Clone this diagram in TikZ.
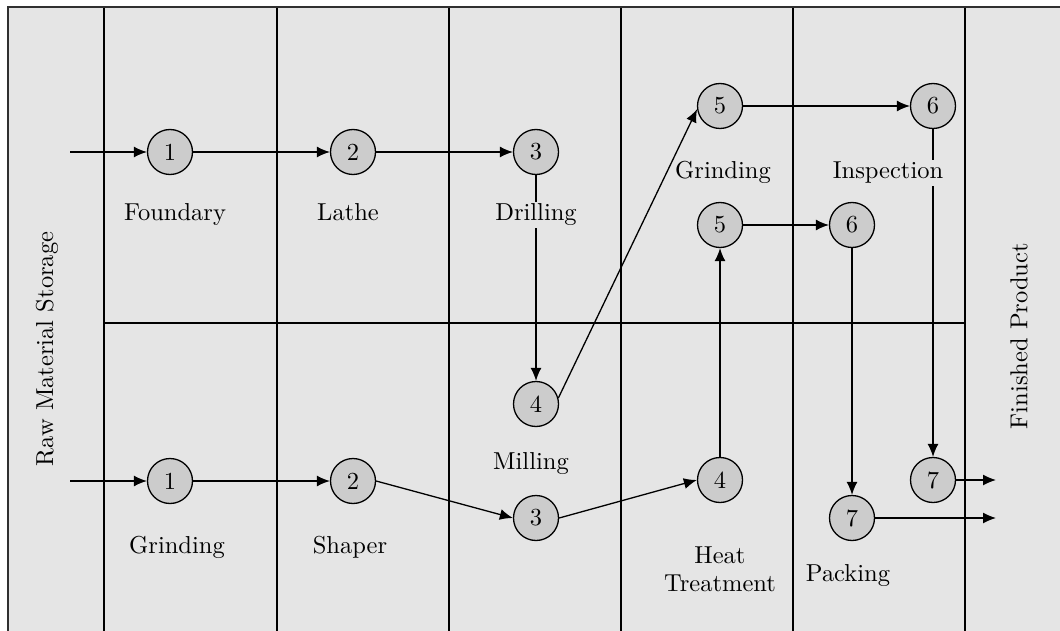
\documentclass[tikz,border=0pt]{standalone}
\usepackage{graphicx}
\usetikzlibrary{arrows.meta}
\definecolor{bg}{HTML}{E5E5E5}
\definecolor{nodefill}{HTML}{CCCCCC}
\definecolor{framecol}{HTML}{303030}
\newcommand\tx[1]{\scalebox{2.45}{#1}}
\begin{document}
\begin{tikzpicture}[x=1pt,y=-1pt,
  font=\fontsize{10}{12}\selectfont,
  gridline/.style={line width=1.3pt,black},
  proc/.style={circle,draw,line width=1.3pt,fill=nodefill,minimum size=45pt,inner sep=0pt},
  flow/.style={line width=1.3pt,-{Latex[length=13pt,width=11pt]}},
  lab/.style={inner sep=0pt,anchor=base},
  cutlab/.style={inner sep=2pt,anchor=base,fill=bg},
  side/.style={rotate=90,inner sep=0pt}]
\useasboundingbox (0,0) rectangle (1060,631);
\clip (0,0) rectangle (1060,631);
\fill[bg] (8,7) rectangle (1070,650);
\foreach \x in {104,277,449,621,793,965} \draw[gridline] (\x,7) -- (\x,650);
\draw[gridline] (104,323) -- (965,323);
\draw[framecol,line width=2.4pt] (8,650) -- (8,7) -- (1070,7);
% side labels
\node[side] (raw) at (47,349) {\tx{Raw Material Storage}};
\node[side] (fin) at (1019,336) {\tx{Finished Product}};
% process nodes
\node[proc] (a1) at (170,152) {\tx{1}};
\node[proc] (a2) at (353,152) {\tx{2}};
\node[proc] (a3) at (536,152) {\tx{3}};
\node[proc] (a4) at (536,404) {\tx{4}};
\node[proc] (a5) at (720,106) {\tx{5}};
\node[proc] (a6) at (933,106) {\tx{6}};
\node[proc] (a7) at (933,480) {\tx{7}};
\node[proc] (b1) at (170,481) {\tx{1}};
\node[proc] (b2) at (353,481) {\tx{2}};
\node[proc] (b3) at (536,518) {\tx{3}};
\node[proc] (b4) at (720,480) {\tx{4}};
\node[proc] (b5) at (720,225) {\tx{5}};
\node[proc] (b6) at (852,225) {\tx{6}};
\node[proc] (b7) at (852,518) {\tx{7}};
\coordinate (ina) at (70,152);
\coordinate (inb) at (70,481);
\coordinate (outa) at (996,480);
\coordinate (outb) at (996,518);
% flows
\draw[flow] (ina) -- (a1);
\draw[flow] (a1) -- (a2);
\draw[flow] (a2) -- (a3);
\draw[flow] (a3) -- (a4);
\draw[flow] (a4.15) -- (a5.188);
\draw[flow] (a5) -- (a6);
\draw[flow] (a6) -- (a7);
\draw[flow] (a7) -- (outa);
\draw[flow] (inb) -- (b1);
\draw[flow] (b1) -- (b2);
\draw[flow] (b2.east) -- (b3.west);
\draw[flow] (b3.east) -- (b4.west);
\draw[flow] (b4) -- (b5);
\draw[flow] (b5) -- (b6);
\draw[flow] (b6) -- (b7);
\draw[flow] (b7) -- (outb);
% labels
\node[lab] (l1) at (175,221) {\tx{Foundary}};
\node[lab] (l2) at (348,221) {\tx{Lathe}};
\node[cutlab] (l3) at (536,221) {\tx{Drilling}};
\node[lab] (l4) at (531,469) {\tx{Milling}};
\node[lab] (l5) at (723,179) {\tx{Grinding}};
\node[cutlab] (l6) at (888,179) {\tx{Inspection}};
\node[lab] (m1) at (177,553) {\tx{Grinding}};
\node[lab] (m2) at (350,553) {\tx{Shaper}};
\node[lab] (m3) at (720,563) {\tx{Heat}};
\node[lab] (m3b) at (720,591) {\tx{Treatment}};
\node[lab] (m4) at (848,581) {\tx{Packing}};
\end{tikzpicture}
\end{document}
